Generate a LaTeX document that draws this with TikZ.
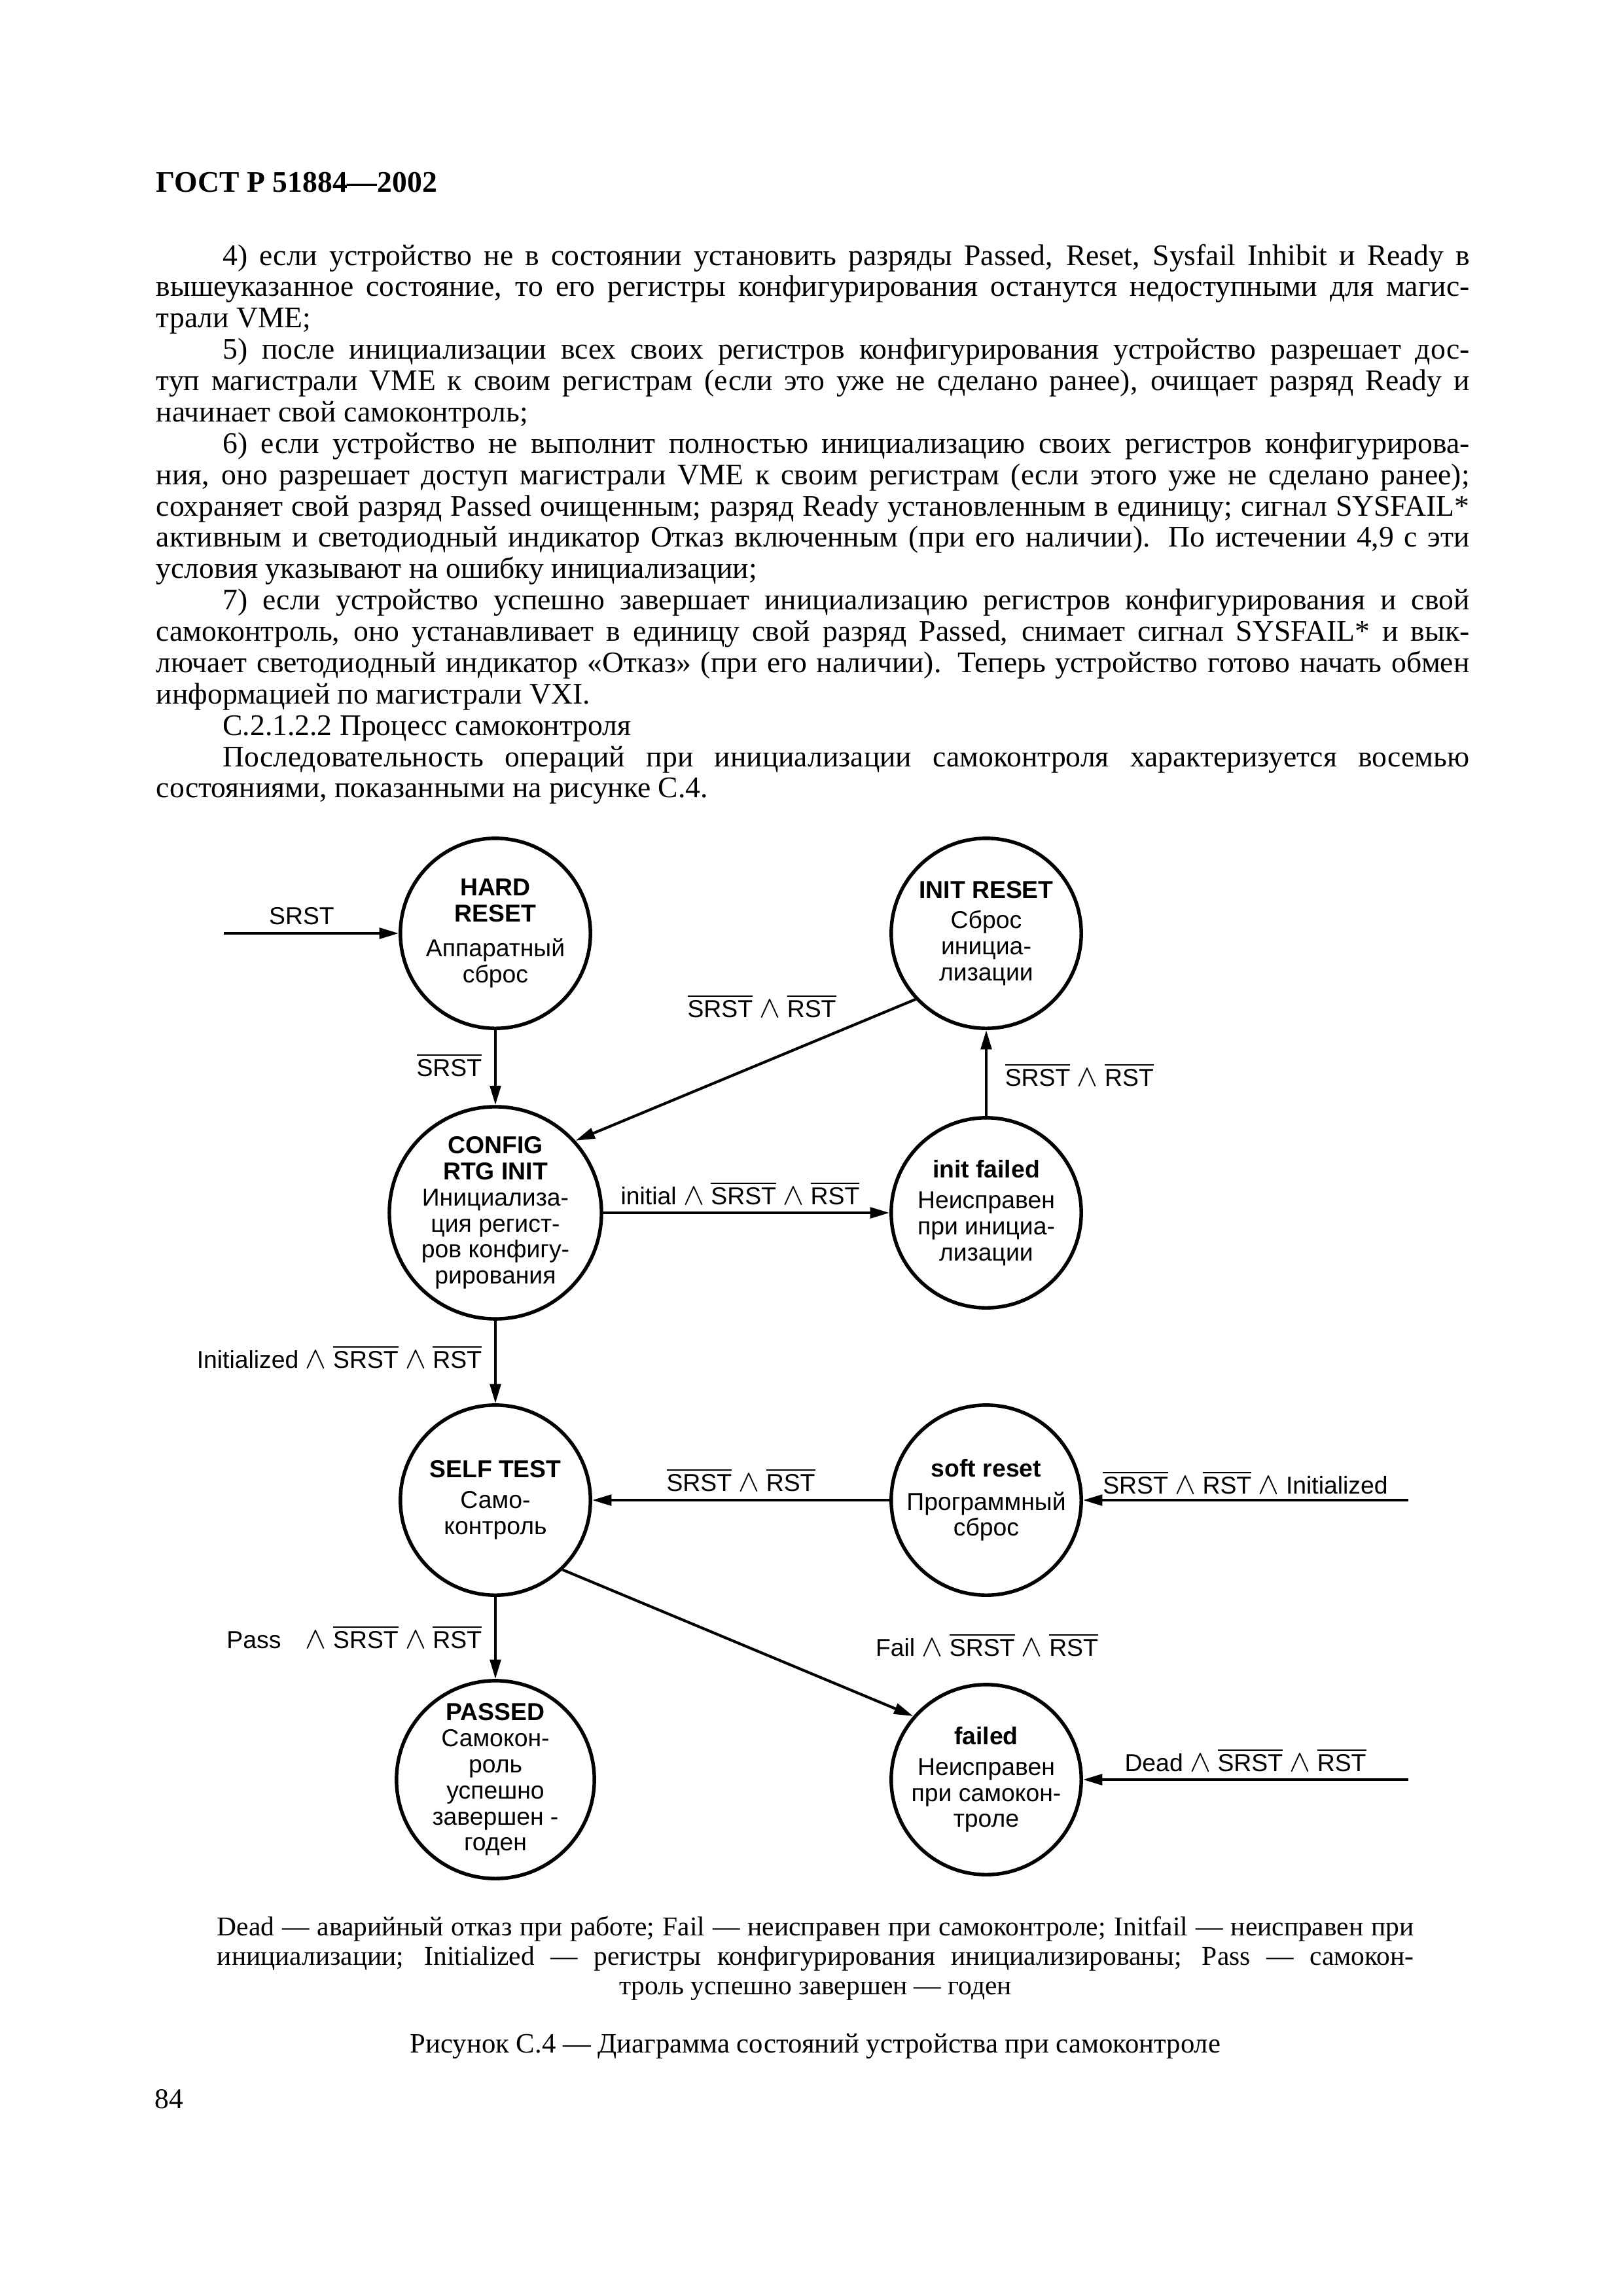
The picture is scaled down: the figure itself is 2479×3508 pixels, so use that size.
\documentclass[tikz,border=0pt]{standalone}
\usepackage{fontspec}
\setmainfont{Liberation Serif}
\setsansfont{Liberation Sans}
\usetikzlibrary{arrows.meta, positioning}

% overlined signal and logical AND
\newcommand{\ov}[1]{$\overline{\mbox{#1}}$}
\newcommand{\AND}{\scalebox{1.25}{$\wedge$}}
% page lines: indented, justified, last, centred
\newcommand{\fline}[1]{\hbox to\hsize{\hskip8.6mm #1}}
\newcommand{\jline}[1]{\hbox to\hsize{#1}}
\newcommand{\lline}[1]{\hbox{#1}}
\newcommand{\mline}[1]{\hbox to\hsize{\hfil#1\hfil}}

\tikzset{
    % States
    stnode/.style={circle, draw, line width=1.3pt, minimum size=24.6mm, inner sep=0pt,
                   align=center, font=\sffamily\fontsize{9}{9.6}\selectfont},
    % Transitions
    trans/.style={-{Triangle[length=2.5mm, width=1.4mm]}, line width=1pt},
    tlbl/.style={font=\sffamily\fontsize{9}{9.6}\selectfont, inner sep=0pt},
    % Page text
    bodytext/.style={anchor=base west, inner sep=0pt, font=\fontsize{11}{11.54}\selectfont},
    legtext/.style={anchor=base west, inner sep=0pt, font=\fontsize{10}{10.85}\selectfont},
}

\begin{document}
\begin{tikzpicture}[x=0.084712mm, y=-0.084712mm]
\fill[white] (0,0) rectangle (2479,3508);
\useasboundingbox (0,0) rectangle (2479,3508);

% header and text
\node[anchor=base west, inner sep=0pt, font=\bfseries\fontsize{11}{13}\selectfont] (gost) at (238,293) {ГОСТ Р 51884—2002};

\node[bodytext] (body) at (238,405) {\vtop{\hsize=170mm
\fline{4) если устройство не в состоянии установить разряды Passed, Reset, Sysfail Inhibit и Ready в}
\jline{вышеуказанное состояние, то его регистры конфигурирования останутся недоступными для магис-}
\lline{трали VME;}
\fline{5) после инициализации всех своих регистров конфигурирования устройство разрешает дос-}
\jline{туп магистрали VME к своим регистрам (если это уже не сделано ранее), очищает разряд Ready и}
\lline{начинает свой самоконтроль;}
\fline{6) если устройство не выполнит полностью инициализацию своих регистров конфигурирова-}
\jline{ния, оно разрешает доступ магистрали VME к своим регистрам (если этого уже не сделано ранее);}
\jline{сохраняет свой разряд Passed очищенным; разряд Ready установленным в единицу; сигнал SYSFAIL*}
\jline{активным и светодиодный индикатор Отказ включенным (при его наличии). По истечении 4,9 с эти}
\lline{условия указывают на ошибку инициализации;}
\fline{7) если устройство успешно завершает инициализацию регистров конфигурирования и свой}
\jline{самоконтроль, оно устанавливает в единицу свой разряд Passed, снимает сигнал SYSFAIL* и вык-}
\jline{лючает светодиодный индикатор «Отказ» (при его наличии). Теперь устройство готово начать обмен}
\lline{информацией по магистрали VXI.}
\lline{\hskip8.6mm С.2.1.2.2 Процесс самоконтроля}
\fline{Последовательность операций при инициализации самоконтроля характеризуется восемью}
\lline{состояниями, показанными на рисунке С.4.}
}};

% states
\node[stnode] (hard)     at (757,1426)  {\textbf{HARD}\\\textbf{RESET}\\[3.4pt]Аппаратный\\сброс};
\node[stnode] (initrst)  at (1507,1426) {\textbf{INIT RESET}\\[1.7pt]Сброс\\инициа-\\лизации};
\node[stnode] (config)   at (757,1853)  {\textbf{CONFIG}\\\textbf{RTG INIT}\\Инициализа-\\ция регист-\\ров конфигу-\\рирования};
\node[stnode] (initfail) at (1507,1853) {\textbf{init failed}\\[1.7pt]Неисправен\\при инициа-\\лизации};
\node[stnode] (selftest) at (757,2292)  {\textbf{SELF TEST}\\[1.7pt]Само-\\контроль};
\node[stnode] (softrst)  at (1507,2292) {\textbf{soft reset}\\[2.6pt]Программный\\сброс};
\node[stnode] (passed)   at (757,2719)  {\textbf{PASSED}\\Самокон-\\роль\\успешно\\завершен -\\годен};
\node[stnode] (failed)   at (1507,2719) {\textbf{failed}\\[1.7pt]Неисправен\\при самокон-\\троле};

\coordinate (srstin) at (342,1426);
\coordinate (softin) at (2152,2292);
\coordinate (deadin) at (2152,2719);

% transitions
\draw[trans] (srstin) -- (hard);
\draw[trans] (hard) -- (config);
\draw[trans] (initrst.223) -- (config.42);
\draw[trans] (config) -- (initfail);
\draw[trans] (initfail) -- (initrst);
\draw[trans] (config) -- (selftest);
\draw[trans] (softrst) -- (selftest);
\draw[trans] (softin) -- (softrst);
\draw[trans] (selftest) -- (passed);
\draw[trans] (selftest.314) -- (failed.139);
\draw[trans] (deadin) -- (failed);

% conditions
\node[tlbl, anchor=base]      (lsrst)   at (461,1412)  {SRST};
\node[tlbl, anchor=base east] (lhard)   at (737,1644)  {\ov{SRST}};
\node[tlbl, anchor=base]      (linit)   at (1164,1554) {\ov{SRST} \AND{} \ov{RST}};
\node[tlbl, anchor=base]      (lcfg)    at (1131,1840) {initial \AND{} \ov{SRST} \AND{} \ov{RST}};
\node[tlbl, anchor=base west] (lifail)  at (1535,1659) {\ov{SRST} \AND{} \ov{RST}};
\node[tlbl, anchor=base east] (linitd)  at (737,2090)  {Initialized \AND{} \ov{SRST} \AND{} \ov{RST}};
\node[tlbl, anchor=base]      (lsoft)   at (1132,2278) {\ov{SRST} \AND{} \ov{RST}};
\node[tlbl, anchor=base]      (lsoftin) at (1903,2282) {\ov{SRST} \AND{} \ov{RST} \AND{} Initialized};
\node[tlbl, anchor=base east] (lpass)   at (737,2518)  {Pass\quad\AND{} \ov{SRST} \AND{} \ov{RST}};
\node[tlbl, anchor=base]      (lfail)   at (1508,2530) {Fail \AND{} \ov{SRST} \AND{} \ov{RST}};
\node[tlbl, anchor=base]      (ldead)   at (1903,2706) {Dead \AND{} \ov{SRST} \AND{} \ov{RST}};

% legend and caption
\node[legtext] (legend) at (331,2957) {\vtop{\hsize=154.9mm
\jline{Dead — аварийный отказ при работе; Fail — неисправен при самоконтроле; Initfail — неисправен при}
\jline{инициализации; Initialized — регистры конфигурирования инициализированы; Pass — самокон-}
\mline{троль успешно завершен — годен}
}};
\node[anchor=base, inner sep=0pt, font=\fontsize{10.3}{12}\selectfont] (caption) at (1246,3136)
    {Рисунок С.4 — Диаграмма состояний устройства при самоконтроле};
\node[anchor=base west, inner sep=0pt, font=\fontsize{10.5}{12}\selectfont] (pageno) at (236,3221) {84};
\end{tikzpicture}
\end{document}
